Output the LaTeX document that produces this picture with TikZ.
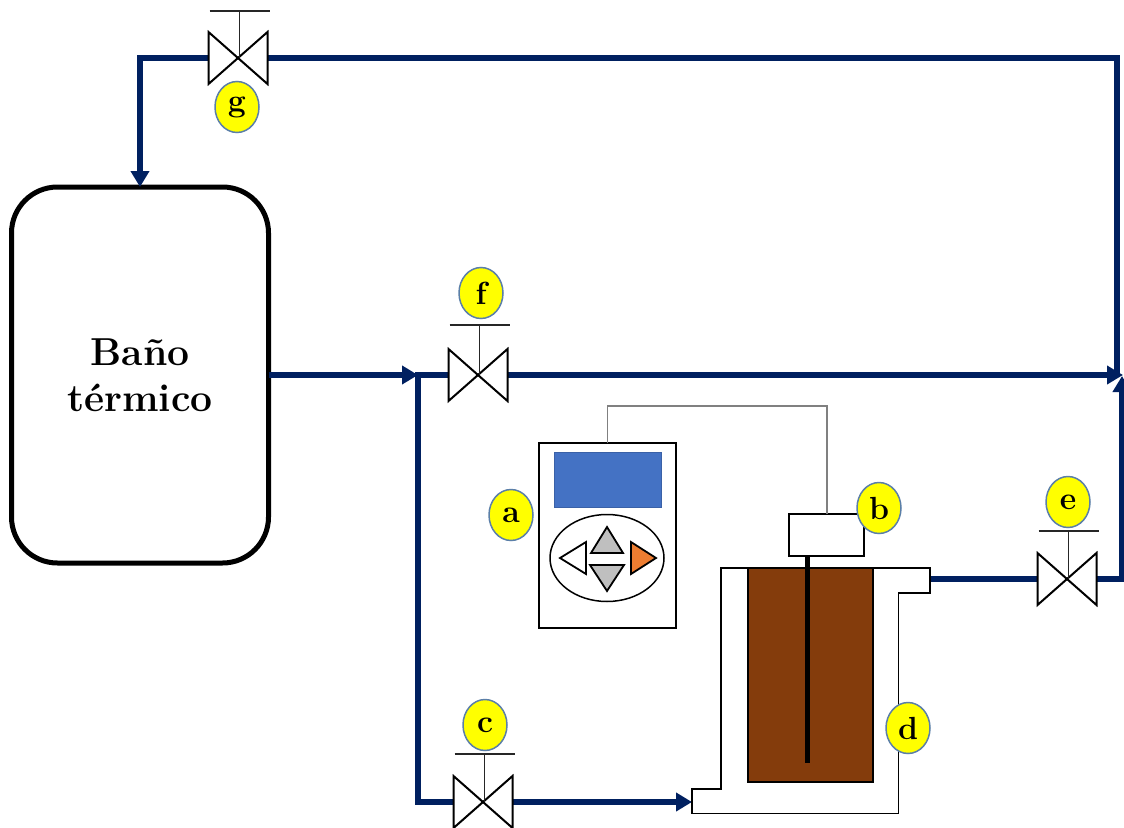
\documentclass[tikz,border=0pt]{standalone}
\usepackage{tikz}
\usetikzlibrary{arrows.meta,calc,shapes.geometric}
\definecolor{pipeblue}{HTML}{002060}
\definecolor{soilbrown}{HTML}{843C0C}
\definecolor{screenblue}{HTML}{4472C4}
\definecolor{keyorange}{HTML}{ED7D31}
\definecolor{badgeedge}{HTML}{5B7FA8}
\definecolor{badgefill}{HTML}{FFFF00}

\begin{document}
\begin{tikzpicture}[
    x=1pt, y=-1pt,
    pipe/.style={draw=pipeblue, line width=5.2pt},
    arr/.style={pipe, -{Triangle[length=16pt, width=18pt]}},
    valve/.style={minimum width=59pt, minimum height=52pt, inner sep=0pt, outer sep=0pt},
    valveline/.style={draw=black, fill=white, line width=2pt, line join=miter},
    stem/.style={draw=black!85, line width=1.1pt},
    badge/.style={ellipse, draw=badgeedge, line width=1.5pt, fill=badgefill,
                  minimum width=44pt, minimum height=51pt, inner sep=0pt,
                  font=\fontsize{32}{32}\selectfont\bfseries},
    box/.style={draw=black, fill=white, line width=2pt, inner sep=0pt, outer sep=0pt},
    key/.style={draw=black, line width=1.8pt, line join=miter}
  ]
  \useasboundingbox (0,0) rectangle (1124,827);

  \node[draw=black, line width=5pt, rounded corners=46pt, minimum width=257pt,
        minimum height=376pt, inner sep=0pt, outer sep=0pt, align=center,
        font=\fontsize{39}{46}\selectfont\bfseries] (bath) at (140,375)
    {Baño\\térmico};

  \coordinate (tee) at (418,375);
  \coordinate (merge) at (1117,375);
  \coordinate (mergeup) at (1122,376);
  \coordinate (jacketin) at (692,802);
  \coordinate (jacketout) at (931,579);

  \foreach \vname/\vx/\vy in {vg/238/58, vf/478/375, ve/1067/579, vc/483/802}
    \node[valve] (\vname) at (\vx,\vy) {};

  % Pipes
  \draw[arr] (vg.west) -| (bath.north);
  \draw[pipe] (vg.east) -| (merge);
  \draw[arr] (bath.east) -- (tee);
  \draw[pipe] (tee) -- (vf.west);
  \draw[arr, shorten >=-1pt] (vf.east) -- (mergeup |- vf);
  \draw[pipe] ($(tee)+(0,-2.6)$) |- (vc.west);
  \draw[arr] (vc.east) -- (jacketin);
  \draw[pipe] (jacketout) -- (ve.west);
  \draw[arr] (ve.east) -| (mergeup);

  % Valves
  \foreach \vname/\vup in {vg/47, vf/50, ve/48, vc/48} {
    \draw[valveline] (\vname.north west) -- (\vname.south east)
      -- (\vname.north east) -- (\vname.south west) -- cycle;
    \coordinate (\vname top) at ($(\vname)+(1.5,-\vup)$);
    \draw[stem] (\vname top |- \vname) -- (\vname top);
    \draw[stem] ($(\vname top)+(-30,0)$) -- ($(\vname top)+(30,0)$);
  }

  % Reactor
  \draw[line width=1.9pt, fill=white, line join=miter] (721,568) -- (930,568) -- (930,593)
    -- (898.5,593) -- (898.5,813.5) -- (692,813.5) -- (692,789) -- (721,789) -- cycle;
  \node[draw=black, fill=soilbrown, line width=1.8pt, minimum width=125pt,
        minimum height=214pt, inner sep=0pt, outer sep=0pt] (sample) at (810.5,675) {};
  \node[box, minimum width=75pt, minimum height=41.5pt] (sensor) at (826.5,535) {};
  \coordinate (probe) at (807,763);
  \draw[line width=5pt] (probe |- sensor.south) -- (probe);

  % Controller
  \node[box, minimum width=137pt, minimum height=185pt] (ctrl) at (607.5,535.5) {};
  \node[draw=screenblue!85!black, fill=screenblue, line width=0.8pt, minimum width=107pt,
        minimum height=55pt, inner sep=0pt] (screen) at (607.5,479.5) {};
  \node[ellipse, draw=black, line width=1.5pt, minimum width=114pt, minimum height=87pt,
        inner sep=0pt] (pad) at (607,558) {};
  \draw[key, fill=white] (560,558) -- (586,542) -- (586,574) -- cycle;
  \draw[key, fill=black!25] (607,527) -- (623,553) -- (591,553) -- cycle;
  \draw[key, fill=black!25] (607,591) -- (624,565) -- (590,565) -- cycle;
  \draw[key, fill=keyorange] (656,558) -- (631,542) -- (631,574) -- cycle;
  \draw[draw=black!50, line width=1.3pt] (ctrl.north) |- (827,406) -- (sensor.north -| 827,0);

  % Labels
  \node[badge] (la) at (511,515) {a};
  \node[badge] (lb) at (879,508) {b};
  \node[badge] (lc) at (485,725) {c};
  \node[badge] (ld) at (908,728) {d};
  \node[badge] (le) at (1068,502) {e};
  \node[badge] (lf) at (481,293) {f};
  \node[badge] (lg) at (237,107) {g};
\end{tikzpicture}
\end{document}
